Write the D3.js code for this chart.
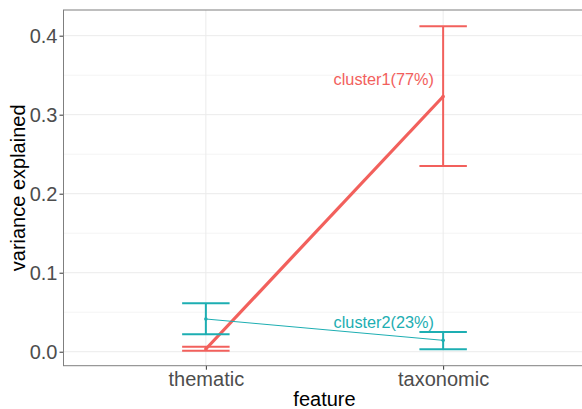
<!DOCTYPE html>
<html>
<head>
<meta charset="utf-8">
<script src="https://cdn.jsdelivr.net/npm/d3@7"></script>
<style>
  body { margin: 0; background: #fff; }
  text { font-family: "Liberation Sans", Arial, sans-serif; }
</style>
</head>
<body>
<div id="chart"></div>
<script>
// values
var features = ["thematic", "taxonomic"];
var clusters = ["cluster1", "cluster2"];
var clusterLabels = ["cluster1(77%)", "cluster2(23%)"];
var meanValues = [
	[0.0034, 0.323],
	[0.0414, 0.0144]
];
var lowerValues = [
	[0.0013, 0.235],
	[0.022, 0.003]
];
var upperValues = [
	[0.0063, 0.412],
	[0.0613, 0.025]
];
var labelPos = [
	[1.75, 0.345],
	[1.75, 0.038]
];
var yTicks = [0, 0.1, 0.2, 0.3, 0.4];
var yMinor = [0.05, 0.15, 0.25, 0.35];

var w = 582, h = 409;
var colors = ["#F2605C", "#1DAEB2"];
var lineWidths = [3.2, 1];

var svg = d3.select("#chart").append("svg")
	.attr("width", w)
	.attr("height", h);

// panel right edge runs off the picture
var x = d3.scaleLinear().domain([0.4, 2.6]).range([63.5, 585.5]);
var y = d3.scaleLinear().domain([-0.0177, 0.4325]).range([365.7, 10]);

var panel = svg.append("g");

panel.selectAll("line.minor")
	.data(yMinor)
	.enter().append("line")
	.attr("x1", x(0.4)).attr("x2", x(2.6))
	.attr("y1", function(d) { return y(d); })
	.attr("y2", function(d) { return y(d); })
	.attr("stroke", "#F4F4F4")
	.attr("stroke-width", 1);

panel.selectAll("line.major")
	.data(yTicks)
	.enter().append("line")
	.attr("x1", x(0.4)).attr("x2", x(2.6))
	.attr("y1", function(d) { return y(d); })
	.attr("y2", function(d) { return y(d); })
	.attr("stroke", "#EBEBEB")
	.attr("stroke-width", 1);

panel.selectAll("line.vmajor")
	.data(features)
	.enter().append("line")
	.attr("x1", function(d, i) { return x(i + 1); })
	.attr("x2", function(d, i) { return x(i + 1); })
	.attr("y1", y.range()[0]).attr("y2", y.range()[1])
	.attr("stroke", "#EBEBEB")
	.attr("stroke-width", 1);

// axes
var yAxis = svg.append("g")
	.attr("transform", "translate(" + x(0.4) + ",0)")
	.call(d3.axisLeft(y).tickValues(yTicks).tickSize(4).tickPadding(2)
		.tickFormat(d3.format(".1f")));
yAxis.select(".domain").remove();
yAxis.selectAll("line").attr("stroke", "#333");
yAxis.selectAll("text").attr("fill", "#4D4D4D").attr("font-size", "20px")
	.attr("font-family", "Liberation Sans, Arial, sans-serif");

var xAxis = svg.append("g")
	.attr("transform", "translate(0," + y.range()[0] + ")")
	.call(d3.axisBottom(x).tickValues([1, 2]).tickSize(4).tickPadding(2)
		.tickFormat(function(d) { return features[d - 1]; }));
xAxis.select(".domain").remove();
xAxis.selectAll("line").attr("stroke", "#333");
xAxis.selectAll("text").attr("fill", "#4D4D4D").attr("font-size", "20px")
	.attr("font-family", "Liberation Sans, Arial, sans-serif");

// panel border
svg.append("rect")
	.attr("x", x(0.4)).attr("y", y.range()[1])
	.attr("width", x(2.6) - x(0.4))
	.attr("height", y.range()[0] - y.range()[1])
	.attr("fill", "none")
	.attr("stroke", "#7F7F7F")
	.attr("stroke-width", 1);

// series
clusters.forEach(function(c, k) {
	var g = svg.append("g").attr("class", c);
	var rows = features.map(function(f, i) {
		return { pos: i + 1, mean: meanValues[k][i], lo: lowerValues[k][i], hi: upperValues[k][i] };
	});

	g.append("path")
		.datum(rows)
		.attr("fill", "none")
		.attr("stroke", colors[k])
		.attr("stroke-width", lineWidths[k])
		.attr("d", d3.line()
			.x(function(d) { return x(d.pos); })
			.y(function(d) { return y(d.mean); }));

	var eb = g.selectAll("g.eb")
		.data(rows)
		.enter().append("g")
		.attr("stroke", colors[k])
		.attr("stroke-width", 2);

	eb.append("line")
		.attr("x1", function(d) { return x(d.pos); })
		.attr("x2", function(d) { return x(d.pos); })
		.attr("y1", function(d) { return y(d.lo); })
		.attr("y2", function(d) { return y(d.hi); });
	eb.append("line")
		.attr("x1", function(d) { return x(d.pos - 0.1); })
		.attr("x2", function(d) { return x(d.pos + 0.1); })
		.attr("y1", function(d) { return y(d.lo); })
		.attr("y2", function(d) { return y(d.lo); });
	eb.append("line")
		.attr("x1", function(d) { return x(d.pos - 0.1); })
		.attr("x2", function(d) { return x(d.pos + 0.1); })
		.attr("y1", function(d) { return y(d.hi); })
		.attr("y2", function(d) { return y(d.hi); });

	g.selectAll("circle")
		.data(rows)
		.enter().append("circle")
		.attr("cx", function(d) { return x(d.pos); })
		.attr("cy", function(d) { return y(d.mean); })
		.attr("r", 1.8)
		.attr("fill", colors[k]);

	g.append("text")
		.attr("x", x(labelPos[k][0]))
		.attr("y", y(labelPos[k][1]))
		.attr("text-anchor", "middle")
		.attr("dominant-baseline", "central")
		.attr("font-size", "16.3px")
		.attr("fill", colors[k])
		.text(clusterLabels[k]);
});

// titles
svg.append("text")
	.attr("x", (x(1) + x(2)) / 2)
	.attr("y", 406)
	.attr("text-anchor", "middle")
	.attr("font-size", "20px")
	.attr("fill", "#000")
	.text("feature");

svg.append("text")
	.attr("transform", "translate(25," + ((y.range()[0] + y.range()[1]) / 2) + ") rotate(-90)")
	.attr("text-anchor", "middle")
	.attr("font-size", "20px")
	.attr("fill", "#000")
	.text("variance explained");
</script>
</body>
</html>
